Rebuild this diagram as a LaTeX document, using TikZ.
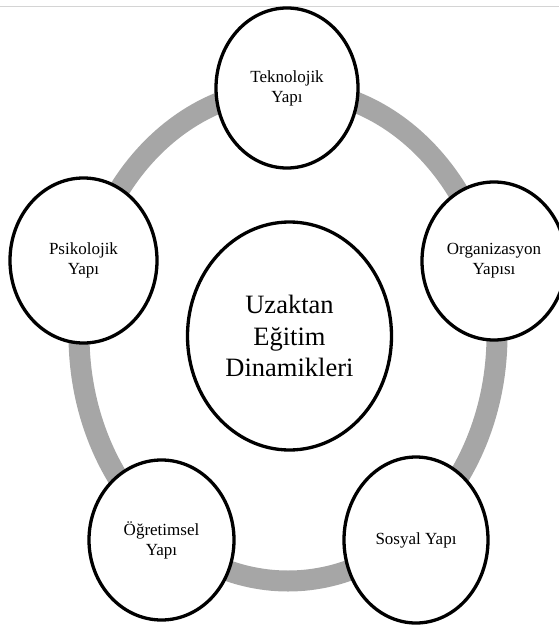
\documentclass[tikz,border=0pt]{standalone}
\usepackage{fontspec}
\setmainfont{Liberation Serif}
\usetikzlibrary{shapes.geometric}

\definecolor{ringgray}{HTML}{A6A6A6}
\definecolor{rulegray}{HTML}{D4D4D4}

\tikzset{
  bubble/.style={ellipse, draw=black, line width=3.3pt, fill=white,
    inner sep=0pt, align=center,
    font=\fontsize{17}{20}\selectfont},
  hub/.style={bubble, font=\fontsize{26.5}{31.5}\selectfont},
  ringline/.style={draw=ringgray, line width=21pt},
  topline/.style={draw=rulegray, line width=1pt}
}

\begin{document}
\begin{tikzpicture}[x=1pt, y=-1pt]
  \useasboundingbox (0,0) rectangle (559,626);
  \clip (0,0) rectangle (559,626);

  % thin rule along the top edge
  \coordinate (ruleL) at (0,6.4);
  \coordinate (ruleR) at (559,6.4);
  \draw[topline] (ruleL) -- (ruleR);

  % grey ring linking the five structures
  \coordinate (ringc) at (288,335);
  \draw[ringline] (ringc) ellipse [x radius=209pt, y radius=246pt];

  % central concept
  \node[hub, minimum width=204pt, minimum height=228pt] (center) at (289.5,336)
    {Uzaktan\\Eğitim\\Dinamikleri};

  % surrounding structures
  \node[bubble, minimum width=142pt, minimum height=160pt] (tek) at (287,88)
    {Teknolojik\\Yapı};
  \node[bubble, minimum width=147pt, minimum height=165pt] (psi) at (83.5,260.5)
    {Psikolojik\\Yapı};
  \node[bubble, minimum width=144pt, minimum height=158pt] (org) at (494,261)
    {Organizasyon\\Yapısı};
  \node[bubble, minimum width=145pt, minimum height=160pt] (ogr) at (161.5,540)
    {Öğretimsel\\Yapı};
  \node[bubble, minimum width=144pt, minimum height=166pt] (sos) at (416,540)
    {Sosyal Yapı};
\end{tikzpicture}
\end{document}
